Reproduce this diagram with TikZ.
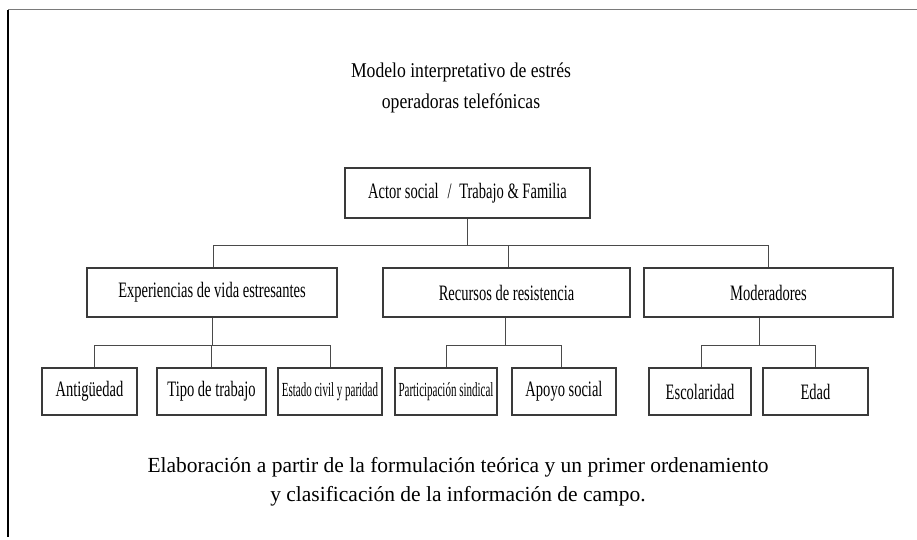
\documentclass[tikz,border=0pt]{standalone}
\usepackage{fontspec}
\setmainfont{Liberation Serif}
\newfontfamily\titlef[FakeStretch=0.84]{Liberation Serif}
\newfontfamily\condf[FakeStretch=0.66]{Liberation Serif}
\newfontfamily\sqf[FakeStretch=0.55]{Liberation Serif}
\newfontfamily\capf{Liberation Serif}
\definecolor{linec}{HTML}{3A3A3A}
\definecolor{connc}{HTML}{4A4A4A}
\definecolor{framegray}{HTML}{7A7A7A}
\begin{document}
\begin{tikzpicture}[x=1pt,y=-1pt,
  box/.style={draw=linec,line width=1.1pt,inner sep=0pt,align=center,
    font=\condf\fontsize{22}{26}\selectfont},
  lvltwo/.style={box,minimum height=49pt},
  lvlthree/.style={box,minimum height=47pt},
  squeezed/.style={font=\sqf\fontsize{20}{23}\selectfont},
  conn/.style={draw=connc,line width=0.9pt},
  titletext/.style={anchor=base,inner sep=0pt,font=\titlef\fontsize{21}{25}\selectfont},
  captext/.style={anchor=base,inner sep=0pt,font=\capf\fontsize{21.5}{26}\selectfont}]
\useasboundingbox (0,0) rectangle (917,539);
% frame
\draw[framegray,line width=1.3pt] (8,9.5) coordinate (ftl) -- (917,9.5) coordinate (ftr);
\draw[black,line width=1.3pt] (ftl) -- (8,537) coordinate (fbl);
% title
\node[titletext] (t1) at (461,77) {Modelo interpretativo de estrés};
\node[titletext] (t2) at (461,108) {operadoras telefónicas};
% boxes
\node[box,minimum width=245pt,minimum height=50pt] (root) at (467.5,193) {Actor social\hspace{0.4em}/\hspace{0.35em}Trabajo \& Familia};
\node[lvltwo,minimum width=250pt] (exp) at (212,292.5) {Experiencias de vida estresantes};
\node[lvltwo,minimum width=247pt] (rec) at (506.5,292.5) {Recursos de resistencia};
\node[lvltwo,minimum width=249pt] (mod) at (768.5,292.5) {Moderadores};
\node[lvlthree,minimum width=95pt] (ant) at (89.5,391.5) {Antigüedad};
\node[lvlthree,minimum width=109pt] (tipo) at (211.5,391.5) {Tipo de trabajo};
\node[lvlthree,squeezed,minimum width=104pt] (est) at (330,391.5) {Estado civil y paridad};
\node[lvlthree,squeezed,minimum width=102pt] (par) at (446,391.5) {Participación sindical};
\node[lvlthree,minimum width=104pt] (apo) at (564,391.5) {Apoyo social};
\node[lvlthree,minimum width=102pt] (esc) at (700,391.5) {Escolaridad};
\node[lvlthree,minimum width=105pt] (eda) at (815.5,391.5) {Edad};
% level 1 -> 2
\draw[conn] (root.south) -- ++(0,27) coordinate (rb);
\draw[conn] ([xshift=1pt]exp.north) |- (rb) -| (mod.north);
\draw[conn] ([xshift=1.5pt]rec.north) -- ([xshift=1.5pt]rec.north |- rb);
% exp -> children
\draw[conn] (exp.south) -- ++(0,28) coordinate (eb);
\draw[conn] ([xshift=4.5pt]ant.north) |- (eb) -| (est.north);
\draw[conn] (tipo.north) -- (tipo.north |- eb);
% rec -> children
\draw[conn] ([xshift=-1.5pt]rec.south) -- ++(0,28) coordinate (reb);
\draw[conn] (par.north) |- (reb) -| ([xshift=-3pt]apo.north);
% mod -> children
\draw[conn] ([xshift=-9.5pt]mod.south) -- ++(0,28) coordinate (mb);
\draw[conn] ([xshift=1pt]esc.north) |- (mb) -| (eda.north);
% caption
\node[captext] (c1) at (458,472) {Elaboración a partir de la formulación teórica y un primer ordenamiento};
\node[captext] (c2) at (458,501) {y clasificación de la información de campo.};
\end{tikzpicture}
\end{document}
